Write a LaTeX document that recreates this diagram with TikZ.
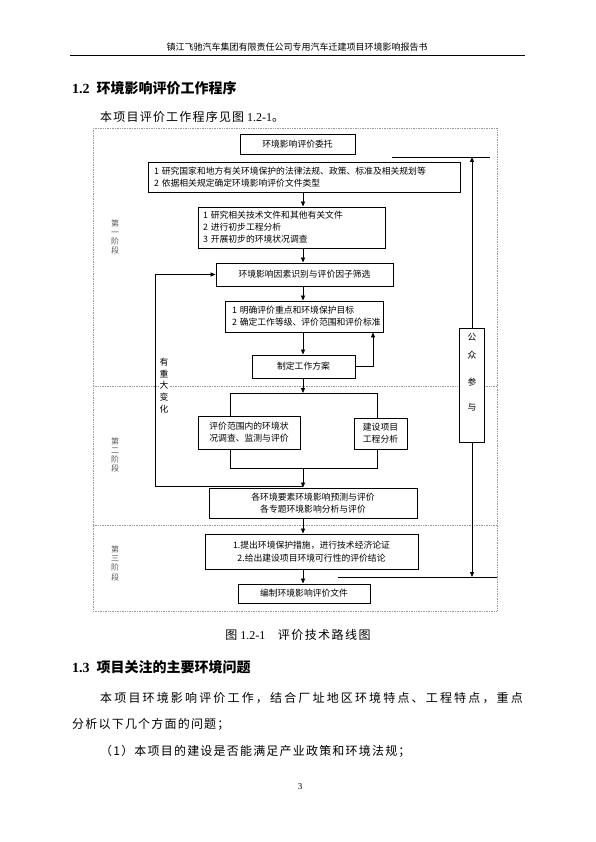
\documentclass[tikz,border=0pt]{standalone}
\usepackage{fontspec}
\setmainfont{Liberation Serif}
\newfontfamily\cjk{Noto Sans CJK SC}
\usetikzlibrary{arrows.meta}
\begin{document}
\begin{tikzpicture}[x=1pt,y=-1pt,
  box/.style={draw, line width=0.9pt, fill=white, inner sep=0pt, align=center,
    font=\cjk\fontsize{8.8}{12}\selectfont},
  lbox/.style={box, align=left},
  ln/.style={line width=0.8pt},
  arr/.style={line width=0.8pt, -{Triangle[length=5pt,width=4pt]}},
  frame/.style={gray!80, line width=0.8pt, dash pattern=on 1pt off 0.7pt},
  stage/.style={font=\cjk\fontsize{8}{9.3}\selectfont, text=gray!70!black, align=center, inner sep=0pt},
  body/.style={anchor=west, inner sep=0pt, font=\fontsize{12}{14}\selectfont},
  head/.style={anchor=west, inner sep=0pt, font=\fontsize{14}{16}\selectfont\bfseries}
]
\fill[white] (0,0) rectangle (595,842);
\useasboundingbox (0,0) rectangle (595,842);

% page header
\node[inner sep=0pt, font=\cjk\fontsize{9}{10}\selectfont] (hdr) at (297,47) {镇江飞驰汽车集团有限责任公司专用汽车迁建项目环境影响报告书};
\coordinate (hl) at (70,55);
\coordinate (hr) at (525,55);
\draw[line width=0.7pt] (hl) -- (hr);

\node[head] (h12) at (72,88) {1.2\ \ {\cjk 环境影响评价工作程序}};
\node[body] (t1) at (100,117) {\cjk\addfontfeature{LetterSpace=10}本项目评价工作程序见图{\rmfamily\ 1.2-1}。};

% frame
\draw[frame] (93,128) rectangle (497,611);
\draw[frame] (93,386) -- (497,386);
\draw[frame] (93,525) -- (497,525);

\coordinate (axis) at (303,0);

% boxes
\node[box, minimum width=115pt, minimum height=20pt] (b1) at (297.5,144) {环境影响评价委托};
\node[lbox, text width=300pt, inner xsep=6pt, minimum height=30pt] (b2) at (304,177)
  {1~研究国家和地方有关环境保护的法律法规、政策、标准及相关规划等\\2~依据相关规定确定环境影响评价文件类型};
\node[lbox, text width=177pt, inner xsep=5pt, minimum height=41pt] (b3) at (291.5,227.5)
  {1~研究相关技术文件和其他有关文件\\2~进行初步工程分析\\3~开展初步的环境状况调查};
\node[box, minimum width=177pt, minimum height=23pt] (b4) at (304.5,274.5) {环境影响因素识别与评价因子筛选};
\node[lbox, text width=144pt, inner xsep=7pt, minimum height=31pt] (b5) at (304,316.5)
  {1~明确评价重点和环境保护目标\\2~确定工作等级、评价范围和评价标准};
\node[box, minimum width=103pt, minimum height=23pt] (b6) at (303.5,366.5) {制定工作方案};
\node[box, minimum width=102pt, minimum height=33pt] (b7a) at (249,432.5) {评价范围内的环境状\\况调查、监测与评价};
\node[box, minimum width=53pt, minimum height=31pt] (b7b) at (380.5,433.5) {建设项目\\工程分析};
\node[box, minimum width=208pt, minimum height=30pt] (b8) at (313,503) {各环境要素环境影响预测与评价\\各专题环境影响分析与评价};
\node[box, minimum width=213pt, minimum height=35pt, font=\cjk\fontsize{8.8}{13}\selectfont] (b9) at (311.5,551.5)
  {1.提出环境保护措施，进行技术经济论证\\2.给出建设项目环境可行性的评价结论};
\node[box, minimum width=132pt, minimum height=19pt] (b10) at (304,593.5) {编制环境影响评价文件};

% public participation
\node[box, minimum width=25pt, minimum height=114pt] (pub) at (472,385) {};
\node[inner sep=0pt, align=center, font=\cjk\fontsize{8.8}{9}\selectfont] (pubt) at (472,372)
  {公\\[9pt]众\\[18pt]参\\[16pt]与};

% stage labels
\node[stage] (s1) at (115,237) {第\\一\\阶\\段};
\node[stage] (s2) at (115,455) {第\\二\\阶\\段};
\node[stage] (s3) at (115,563) {第\\三\\阶\\段};

% main flow arrows
\draw[arr] (b2.south -| axis) -- (b3.north -| axis);
\draw[arr] (b3.south -| axis) -- (b4.north -| axis);
\draw[arr] (b4.south -| axis) -- (b5.north -| axis);
\draw[arr] (b5.south -| axis) -- (b6.north -| axis);

% split bracket
\coordinate (sp) at (303,393);
\coordinate (bkL) at (230,393);
\coordinate (bkR) at (377,393);
\coordinate (bkL2) at (230,468);
\coordinate (bkR2) at (377,468);
\coordinate (jn) at (303,468);
\draw[arr] (b6.south -| axis) -- (sp);
\draw[ln] (bkL) -- (bkR);
\draw[ln] (bkL) -- (b7a.north -| bkL);
\draw[ln] (bkR) -- (b7b.north -| bkR);
\draw[ln] (b7a.south -| bkL2) -- (bkL2) -- (bkR2) -- (b7b.south -| bkR2);
\draw[arr] (jn) -- (b8.north -| axis);
\draw[arr] (b8.south -| axis) -- (b9.north -| axis);
\draw[arr] (b9.south -| axis) -- (b10.north -| axis);

% feedback loop
\coordinate (fb) at (373,366.5);
\draw[arr] (b6.east) -- (fb) -- (b5.south -| fb);

% major change loop
\coordinate (lp) at (303,486);
\coordinate (lc) at (155,486);
\draw[arr] (lp) -- (lc) |- (b4.west);
\node[inner sep=0.5pt, fill=white, align=center, font=\cjk\fontsize{8.8}{11.75}\selectfont] (chg) at (164,385.5)
  {有\\重\\大\\变\\化};

% public participation lines
\coordinate (tl) at (392,157);
\coordinate (tr) at (490,157);
\coordinate (pt) at (472,157);
\draw[ln] (tl) -- (tr);
\draw[arr] (pub.north) -- (pt);
\coordinate (bl) at (338,577);
\coordinate (br) at (497,577);
\coordinate (pb) at (472,577);
\draw[ln] (bl) -- (br);
\draw[arr] (pub.south) -- (pb);

% caption and text below
\node[inner sep=0pt, font=\fontsize{12}{14}\selectfont] (cap) at (298,635)
  {\cjk\addfontfeature{LetterSpace=12}图{\rmfamily\ 1.2-1}\ \ \ 评价技术路线图};
\node[head] (h13) at (72,667) {1.3\ \ {\cjk 项目关注的主要环境问题}};
\node[body] (p1) at (100,698) {\cjk\addfontfeature{LetterSpace=18}本项目环境影响评价工作，结合厂址地区环境特点、工程特点，重点};
\node[body] (p2) at (72,724) {\cjk\addfontfeature{LetterSpace=10}分析以下几个方面的问题；};
\node[body] (p3) at (100,751) {\cjk\addfontfeature{LetterSpace=10}（1）本项目的建设是否能满足产业政策和环境法规；};
\node[inner sep=0pt, font=\fontsize{9}{10}\selectfont] (pg) at (300,787) {3};
\end{tikzpicture}
\end{document}
